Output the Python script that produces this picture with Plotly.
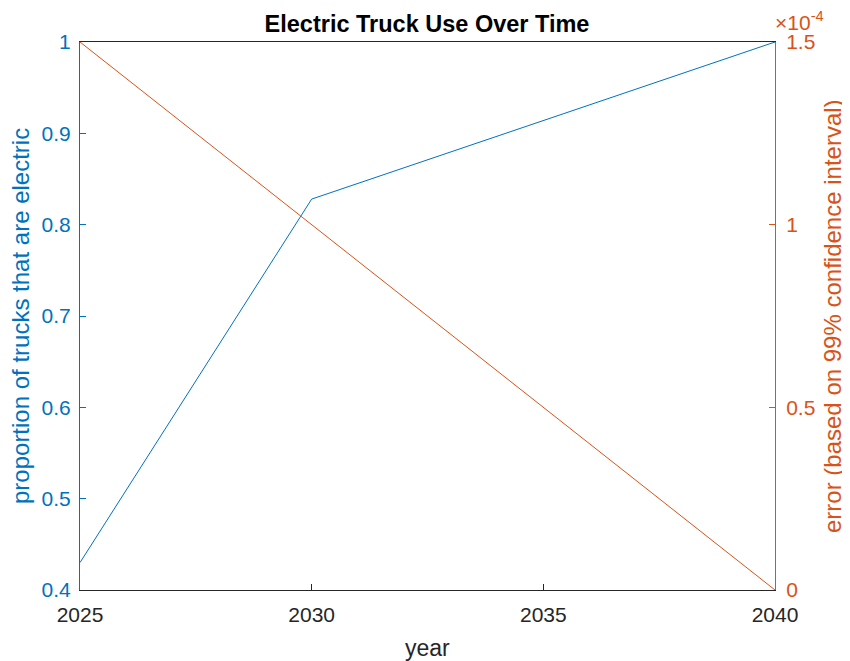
import plotly.graph_objects as go

years = [2025, 2030, 2040]
proportion = [0.43, 0.828, 1.0]
err_years = [2025, 2040]
err_values = [1.5e-4, 0.0]

left_ticks = [0.4, 0.5, 0.6, 0.7, 0.8, 0.9, 1.0]
left_ticktext = ["0.4", "0.5", "0.6", "0.7", "0.8", "0.9", "1"]
right_ticks = [0, 0.5e-4, 1.0e-4, 1.5e-4]
right_ticktext = ["0", "0.5", "1", "1.5"]
x_ticks = [2025, 2030, 2035, 2040]

BLUE = "#0072BD"
ORANGE = "#D95319"
DARK = "#262626"
FONT = "Liberation Sans, Arial, sans-serif"

# page body adds an 8px offset; positions below are in figure coordinates
OFF = 8
W, H = 850, 661
L, T = 80 - OFF, 42 - OFF
PW, PH = 695, 548
R, B = W - L - PW, H - T - PH

fig = go.Figure()
fig.add_trace(go.Scatter(x=years, y=proportion, mode="lines",
                         line=dict(color=BLUE, width=1), yaxis="y", showlegend=False))
fig.add_trace(go.Scatter(x=err_years, y=err_values, mode="lines",
                         line=dict(color=ORANGE, width=1), yaxis="y2", showlegend=False))

fig.update_layout(
    width=W, height=H,
    margin=dict(l=L, r=R, t=T, b=B, autoexpand=False),
    plot_bgcolor="white", paper_bgcolor="white",
    font=dict(family=FONT, size=21, color=DARK),
    title=dict(text="<b>Electric Truck Use Over Time</b>", x=(427 - OFF) / W, xanchor="center",
               xref="container", y=1 - (24 - OFF) / H, yanchor="middle",
               font=dict(size=23.5, color="black")),
    xaxis=dict(range=[2025, 2040], tickvals=x_ticks, ticks="inside", ticklen=6,
               tickcolor=DARK, showline=True, linecolor=DARK, linewidth=1,
               mirror=True, showgrid=False, zeroline=False, automargin=False,
               ticklabelstandoff=6,
               tickfont=dict(size=21, color=DARK)),
    yaxis=dict(range=[0.4, 1.0], tickvals=left_ticks, ticktext=left_ticktext,
               ticks="inside", ticklen=6, tickcolor=BLUE, showline=True, linecolor=BLUE,
               linewidth=1, showgrid=False, zeroline=False, automargin=False,
               ticklabelstandoff=4,
               tickfont=dict(size=21, color=BLUE)),
    yaxis2=dict(range=[0, 1.5e-4], overlaying="y", side="right",
                tickvals=right_ticks, ticktext=right_ticktext,
                ticks="inside", ticklen=6, tickcolor=ORANGE, showline=True, linecolor=ORANGE,
                linewidth=1, showgrid=False, zeroline=False, automargin=False,
                ticklabelstandoff=6,
                tickfont=dict(size=21, color=ORANGE)),
)

# axis titles
fig.add_annotation(text="year", xref="paper", yref="paper", x=0.5,
                   y=-(648 - OFF - (T + PH)) / PH,
                   xanchor="center", yanchor="middle", showarrow=False,
                   font=dict(size=23, color=DARK))
fig.add_annotation(text="proportion of trucks that are electric", xref="paper", yref="paper",
                   x=(20 - OFF - L) / PW, y=0.5, xanchor="center", yanchor="middle",
                   textangle=-90, showarrow=False, font=dict(size=24, color=BLUE))
fig.add_annotation(text="error (based on 99% confidence interval)", xref="paper", yref="paper",
                   x=(832 - OFF - L) / PW, y=0.5, xanchor="center", yanchor="middle",
                   textangle=-90, showarrow=False, font=dict(size=24, color=ORANGE))
# exponent label
fig.add_annotation(text="×10<sup>-4</sup>", xref="paper", yref="paper", x=1.0, y=1.0,
                   xanchor="left", yanchor="bottom", showarrow=False, xshift=-2, yshift=6,
                   font=dict(size=21, color=ORANGE))

fig.write_html("out.html")
